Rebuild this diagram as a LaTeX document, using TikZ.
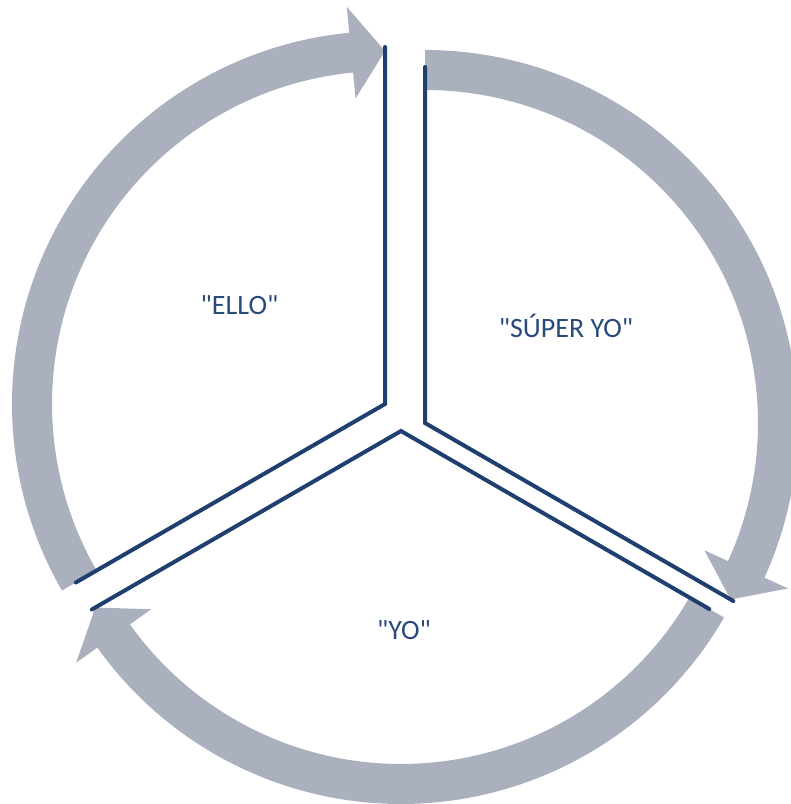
\documentclass[tikz,border=0pt]{standalone}
\usepackage{fontspec}
\setmainfont{Carlito}
\usetikzlibrary{calc}
\definecolor{arrowgrey}{HTML}{ABB0BE}
\definecolor{edgeblue}{HTML}{1F3F6F}
\definecolor{textblue}{HTML}{29497A}
\tikzset{
  arrowfill/.style={fill=arrowgrey},
  edgeline/.style={draw=edgeblue, line width=4pt, line cap=round, line join=miter},
  label/.style={text=textblue, font=\fontsize{28}{33}\selectfont, inner sep=0pt, anchor=center}
}
% #1 centre, #2 start angle, #3 tip angle (clockwise travel)
\newcommand\cyclearrow[3]{%
  \fill[arrowfill] ($(#1)+({#2}:373)$) arc[start angle={#2}, end angle={#3+5.5}, radius=373]
    -- ($(#1)+({#3+5.5}:399)$) -- ($(#1)+({#3}:353)$) -- ($(#1)+({#3+5.5}:307)$)
    -- ($(#1)+({#3+5.5}:333)$) arc[start angle={#3+5.5}, end angle={#2}, radius=333] -- cycle;}
\newcommand\sq{\textquotedbl}
\begin{document}
\begin{tikzpicture}[x=1pt,y=1pt]
\useasboundingbox (0,0) rectangle (791,804);
\coordinate (tl) at (385,{804-404});
\coordinate (tr) at (425,{804-423});
\coordinate (bt) at (401,{804-431});
% arrows
\cyclearrow{tl}{210}{90}
\cyclearrow{tr}{90}{-30}
\cyclearrow{bt}{-30}{-150}
% wedge edges
\coordinate (tlA) at ($(tl)+(90:357)$);
\coordinate (tlB) at ($(tl)+(210:357)$);
\coordinate (trA) at ($(tr)+(90:356)$);
\coordinate (trB) at ($(tr)+(-30:356)$);
\coordinate (btA) at ($(bt)+(210:357)$);
\coordinate (btB) at ($(bt)+(-30:356)$);
\draw[edgeline] (tlA) -- (tl) -- (tlB);
\draw[edgeline] (trA) -- (tr) -- (trB);
\draw[edgeline] (btA) -- (bt) -- (btB);
% labels
\node[label] (ello) at (239.5,{804-305}) {\sq ELLO\sq};
\node[label] (super) at (566,{804-326}) {\sq SÚPER YO\sq};
\node[label] (yo) at (404,{804-630}) {\sq YO\sq};
\end{tikzpicture}
\end{document}
